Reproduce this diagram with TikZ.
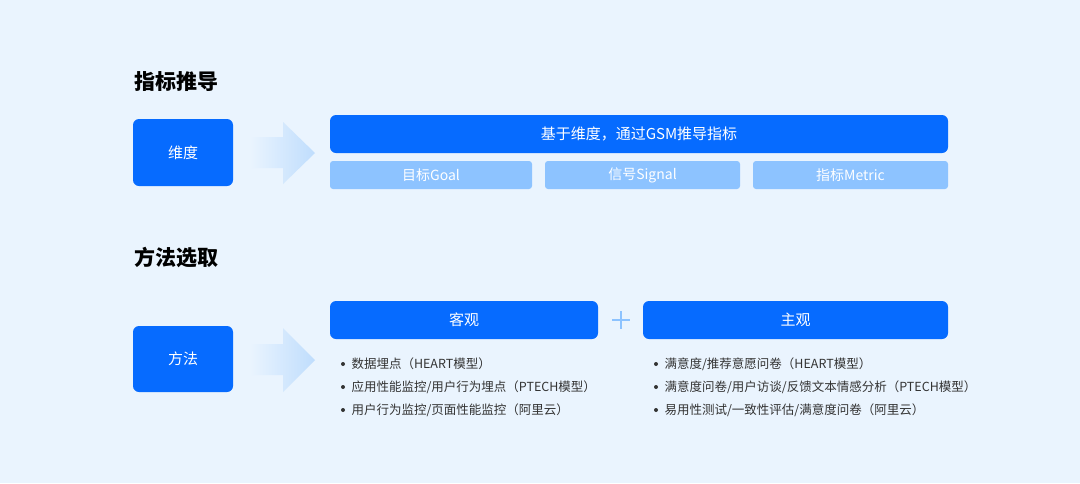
\documentclass[tikz,border=0pt]{standalone}
\usepackage{fontspec}
\setmainfont{Noto Sans CJK SC}
\definecolor{bg}{HTML}{EAF4FE}
\definecolor{mblue}{HTML}{066BFF}
\definecolor{lblue}{HTML}{8DC3FF}
\definecolor{arr}{HTML}{BFDDFD}
\definecolor{txt}{HTML}{333333}
\definecolor{plus}{HTML}{8DC3FF}
\begin{document}
\begin{tikzpicture}[x=1pt,y=-1pt,
  bigbox/.style={fill=mblue,rounded corners=6pt,draw=none},
  litebox/.style={fill=lblue,rounded corners=3pt,draw=none},
  boxtxt/.style={text=white,font=\fontsize{15}{18}\selectfont},
  title/.style={anchor=west,font=\fontsize{21}{24}\selectfont\bfseries,text=black},
  item/.style={anchor=west,text=txt,font=\fontsize{12.5}{14}\selectfont}]
\fill[bg] (0,0) rectangle (1080,483);
\useasboundingbox (0,0) rectangle (1080,483);
% section 1
\node[title] (t1) at (131,82) {指标推导};
\fill[bigbox] (133,119) rectangle (233,186);
\node[boxtxt] (wd) at (183,152.5) {维度};
\shade[left color=bg,right color=arr] (250,137) -- (283,137) -- (283,122) -- (315,153) -- (283,184) -- (283,168) -- (250,168) -- cycle;
\fill[bigbox] (330,115) rectangle (948,153);
\node[boxtxt] (gsm) at (639,134) {基于维度，通过GSM推导指标};
\fill[litebox] (330,161) rectangle (532,189);
\fill[litebox] (545,161) rectangle (740,189);
\fill[litebox] (753,161) rectangle (948,189);
\node[boxtxt,font=\fontsize{14}{16}\selectfont] (g) at (431,175) {目标Goal};
\node[boxtxt,font=\fontsize{14}{16}\selectfont] (s) at (642.5,175) {信号Signal};
\node[boxtxt,font=\fontsize{14}{16}\selectfont] (m) at (850.5,175) {指标Metric};
% section 2
\node[title] (t2) at (131,258) {方法选取};
\fill[bigbox] (133,326) rectangle (233,392);
\node[boxtxt] (ff) at (183,359) {方法};
\shade[left color=bg,right color=arr] (250,344) -- (283,344) -- (283,328) -- (315,360) -- (283,392) -- (283,375) -- (250,375) -- cycle;
\fill[bigbox] (330,301) rectangle (598,339);
\node[boxtxt] (kg) at (464,320) {客观};
\draw[plus,line width=2.8pt] (612,320) -- (630,320) (621,311) -- (621,329);
\fill[bigbox] (643,301) rectangle (948,339);
\node[boxtxt] (zg) at (795.5,320) {主观};
\foreach \y/\t in {364/{数据埋点（HEART模型）},387/{应用性能监控/用户行为埋点（PTECH模型）},410/{用户行为监控/页面性能监控（阿里云）}}{
  \fill[txt] (343,\y) circle (2);
  \node[item] at (348,\y) {\t};}
\foreach \y/\t in {364/{满意度/推荐意愿问卷（HEART模型）},387/{满意度问卷/用户访谈/反馈文本情感分析（PTECH模型）},410/{易用性测试/一致性评估/满意度问卷（阿里云）}}{
  \fill[txt] (656,\y) circle (2);
  \node[item] at (661,\y) {\t};}
\end{tikzpicture}
\end{document}
